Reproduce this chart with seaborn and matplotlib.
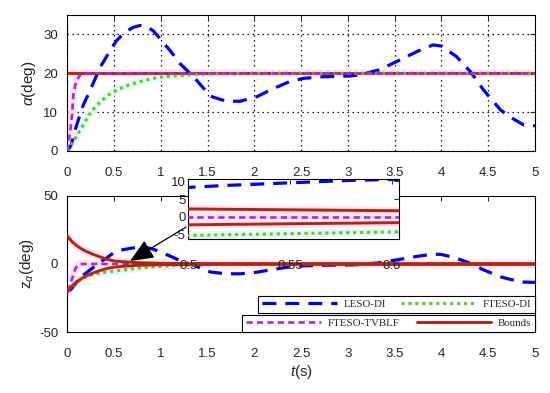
import matplotlib
matplotlib.use("Agg")
import matplotlib.pyplot as plt
import seaborn as sns
from matplotlib.lines import Line2D

# ---- values ----
# top panel: alpha (deg)
t_leso_top = [0, 0.04, 0.1, 0.17, 0.26, 0.35, 0.42, 0.48, 0.53, 0.58, 0.62, 0.7, 0.78, 0.85, 0.92, 1.03,
              1.12, 1.2, 1.35, 1.53, 1.7, 1.85, 2.03, 2.17, 2.38, 2.53, 2.74, 3.02, 3.13, 3.34, 3.63, 3.74,
              3.91, 4.0, 4.16, 4.31, 4.45, 4.63, 4.73, 4.88, 5.0]
alpha_leso = [0, 1.5, 6.7, 11.8, 16.5, 21.5, 24.3, 26.7, 28.5, 29.7, 30.5, 31.8, 32.3, 32.0, 30.9, 27.8,
              25.2, 22.6, 19.1, 14.1, 12.8, 12.8, 14.0, 15.7, 17.9, 18.7, 19.1, 19.3, 19.6, 20.9, 24.3, 25.6,
              27.3, 27.0, 24.3, 20.4, 15.7, 10.6, 8.8, 6.7, 6.5]
t_ftdi_top = [0, 0.04, 0.085, 0.17, 0.25, 0.35, 0.46, 0.6, 0.74, 0.88, 1.0, 1.14, 1.3, 1.5, 1.75, 2.0, 5.0]
alpha_ftdi = [0, 1.5, 3.3, 6.7, 10, 12.6, 14.8, 16.5, 17.6, 18.5, 19.0, 19.3, 19.6, 19.8, 19.95, 20, 20]
t_tvblf_top = [0, 0.01, 0.03, 0.05, 0.067, 0.1, 0.15, 5.0]
alpha_tvblf = [0, 2, 4.9, 9.2, 15.2, 18.2, 20, 20]
t_ref = [0, 5.0]
alpha_ref = [20, 20]

# bottom panel: z_alpha (deg)
t_leso_bot = [0, 0.04, 0.1, 0.17, 0.26, 0.35, 0.42, 0.46, 0.5, 0.52, 0.55, 0.58, 0.62, 0.7, 0.78, 0.85,
              0.92, 1.03, 1.12, 1.2, 1.35, 1.53, 1.7, 1.85, 2.03, 2.17, 2.38, 2.53, 2.74, 3.02, 3.13, 3.34,
              3.63, 3.74, 3.91, 4.0, 4.16, 4.31, 4.45, 4.63, 4.73, 4.88, 5.0]
z_leso = [-20, -18.5, -13.3, -8.2, -3.5, 1.5, 4.3, 6.5, 8.3, 8.9, 9.6, 10.3, 10.8, 11.8, 12.3, 12.0,
          10.9, 7.8, 5.2, 2.6, -0.9, -5.9, -7.2, -7.2, -6.0, -4.3, -2.1, -1.3, -0.9, -0.7, -0.4, 0.9,
          4.3, 5.6, 7.3, 7.0, 4.3, 0.4, -4.3, -9.4, -11.2, -13.3, -13.5]
t_ftdi_bot = [0, 0.05, 0.1, 0.17, 0.25, 0.35, 0.42, 0.5, 0.55, 0.6, 0.74, 0.88, 1.0, 1.14, 1.3, 1.5, 1.75, 2.0, 5.0]
z_ftdi = [-20, -16.5, -13.5, -10.3, -8.2, -6.6, -5.9, -5.3, -4.8, -4.3, -3.2, -2.3, -1.7, -1.2, -0.8,
          -0.45, -0.15, 0, 0]
t_tvblf_bot = [0, 0.02, 0.04, 0.06, 0.085, 0.11, 0.14, 0.2, 5.0]
z_tvblf = [-20, -17, -13, -9, -3.7, -1.0, 0, 0, 0]
t_bound = [0, 0.05, 0.1, 0.15, 0.2, 0.28, 0.35, 0.42, 0.5, 0.55, 0.6, 0.7, 0.8, 1.0, 1.5, 5.0]
bound_up = [20.5, 16.5, 13.5, 11.2, 9.3, 7.0, 5.2, 3.6, 2.2, 1.95, 1.7, 1.2, 0.9, 0.5, 0.3, 0.3]
bound_low = [-20.5, -16, -13, -10.8, -8.8, -6.5, -4.8, -3.4, -2.3, -2.0, -1.7, -1.2, -0.9, -0.5, -0.3, -0.3]

labels = ["LESO-DI", "FTESO-DI", "FTESO-TVBLF", "Bounds"]

# ---- styles ----
BLUE, GREEN, MAG, RED = "#0000f0", "#66c22e", "#a032c4", "#b0280c"
style = {
    "LESO-DI": dict(color=BLUE, lw=2.3, ls=(0, (10, 6.5)), halo=None),
    "FTESO-DI": dict(color=GREEN, lw=2.2, ls=(0, (2.2, 2.8)), halo="#e2faf4"),
    "FTESO-TVBLF": dict(color=MAG, lw=1.9, ls=(0, (4.5, 3)), halo="#fde3f5"),
    "Bounds": dict(color=RED, lw=2.1, ls="-", halo="#fde3f5"),
}

sns.set_style("white")
plt.rcParams["font.family"] = ["Liberation Sans", "DejaVu Sans"]
plt.rcParams["mathtext.fontset"] = "custom"
plt.rcParams["mathtext.rm"] = "Liberation Sans"
plt.rcParams["mathtext.it"] = "Liberation Sans:italic"
plt.rcParams["axes.unicode_minus"] = False
plt.rcParams["lines.scale_dashes"] = False


def draw(ax, t, y, name, z=2):
    s = style[name]
    if s["halo"]:
        # light glow under the curve, kept below every real line
        sns.lineplot(x=t, y=y, ax=ax, color=s["halo"], lw=s["lw"] + 3.5, sort=False,
                     estimator=None, zorder=1.2)
    sns.lineplot(x=t, y=y, ax=ax, color=s["color"], lw=s["lw"], linestyle=s["ls"],
                 sort=False, estimator=None, zorder=z)


def fmt_axes(ax, labelsize=9.5):
    for sp in ax.spines.values():
        sp.set_color("black")
        sp.set_linewidth(0.8)
    ax.tick_params(direction="in", top=True, right=True, length=3.5, width=0.7,
                   labelsize=labelsize, labelcolor="#262626")
    ax.tick_params(axis="x", pad=11.5)
    ax.tick_params(axis="y", pad=6.5)


fig = plt.figure(figsize=(5.5, 3.93), dpi=100)
ax1 = fig.add_axes([0.1224, 0.6158, 0.8503, 0.3461])
ax2 = fig.add_axes([0.1224, 0.1552, 0.8503, 0.3461])
ax3 = fig.add_axes([0.3424, 0.3911, 0.3836, 0.1527])

# top
draw(ax1, t_ref, alpha_ref, "Bounds", z=2)
draw(ax1, t_leso_top, alpha_leso, "LESO-DI", z=3)
draw(ax1, t_ftdi_top, alpha_ftdi, "FTESO-DI", z=4)
draw(ax1, t_tvblf_top, alpha_tvblf, "FTESO-TVBLF", z=5)
ax1.set_xlim(0, 5)
ax1.set_ylim(0, 35)
ax1.set_xticks([0, 0.5, 1, 1.5, 2, 2.5, 3, 3.5, 4, 4.5, 5])
ax1.set_xticklabels(["0", "0.5", "1", "1.5", "2", "2.5", "3", "3.5", "4", "4.5", "5"])
ax1.set_yticks([0, 10, 20, 30])
ax1.grid(True, color="black", linestyle=(0, (1, 2.6)), lw=0.9)
ax1.set_axisbelow(True)
ax1.set_ylabel(r"$\alpha$(deg)", fontsize=11, labelpad=4)
fmt_axes(ax1)

# bottom
draw(ax2, t_leso_bot, z_leso, "LESO-DI", z=2)
draw(ax2, t_ftdi_bot, z_ftdi, "FTESO-DI", z=3)
draw(ax2, t_tvblf_bot, z_tvblf, "FTESO-TVBLF", z=4)
draw(ax2, t_bound, bound_up, "Bounds", z=5)
draw(ax2, t_bound, bound_low, "Bounds", z=5)
ax2.set_xlim(0, 5)
ax2.set_ylim(-50, 50)
ax2.set_xticks([0, 0.5, 1, 1.5, 2, 2.5, 3, 3.5, 4, 4.5, 5])
ax2.set_xticklabels(["0", "0.5", "1", "1.5", "2", "2.5", "3", "3.5", "4", "4.5", "5"])
ax2.set_yticks([-50, 0, 50])
ax2.set_ylabel(r"z$_{\alpha}$(deg)", fontsize=11, labelpad=2)
ax2.set_xlabel(r"$t$(s)", fontsize=11, labelpad=2)
fmt_axes(ax2)

ax2.annotate("", xy=(0.67, 2.2), xytext=(1.27, 27.2), xycoords="data", textcoords="data",
             annotation_clip=False, zorder=10,
             arrowprops=dict(arrowstyle="-|>,head_length=1.05,head_width=0.45", color="black",
                             lw=0.9, mutation_scale=14, shrinkA=0, shrinkB=0))

# inset (zoom of bottom panel)
draw(ax3, t_leso_bot, z_leso, "LESO-DI", z=2)
draw(ax3, t_ftdi_bot, z_ftdi, "FTESO-DI", z=3)
draw(ax3, t_tvblf_bot, z_tvblf, "FTESO-TVBLF", z=4)
draw(ax3, t_bound, bound_up, "Bounds", z=5)
draw(ax3, t_bound, bound_low, "Bounds", z=5)
ax3.set_xlim(0.5, 0.6035)
ax3.set_ylim(-6.4, 10.6)
ax3.set_xticks([0.5, 0.55, 0.6])
ax3.set_xticklabels(["0.5", "0.55", "0.6"])
ax3.set_yticks([-5, 0, 5, 10])
ax3.set_facecolor("white")
fmt_axes(ax3)
ax3.tick_params(axis="x", pad=15)
ax3.tick_params(axis="y", pad=2)

# legends: two stacked boxes
def handle(name):
    s = style[name]
    return Line2D([], [], color=s["color"], lw=s["lw"], linestyle=s["ls"])

leg_kw = dict(loc="lower right", bbox_transform=fig.transFigure, borderaxespad=0, ncol=2,
              fancybox=False, framealpha=1, edgecolor="black", handlelength=6.9,
              handletextpad=0.6, borderpad=0.35,
              prop={"family": "Liberation Serif", "size": 7.8})
leg1 = ax2.legend([handle(labels[0]), handle(labels[1])], labels[:2],
                  bbox_to_anchor=(535 / 550, 1 - 313 / 393), columnspacing=1.45, **leg_kw)
leg1.get_frame().set_linewidth(0.8)
ax2.add_artist(leg1)
leg2 = ax2.legend([handle(labels[2]), handle(labels[3])], labels[2:],
                  bbox_to_anchor=(535 / 550, 1 - 332 / 393), columnspacing=1.6, **leg_kw)
leg2.get_frame().set_linewidth(0.8)

fig.savefig("out.png", dpi=100)
